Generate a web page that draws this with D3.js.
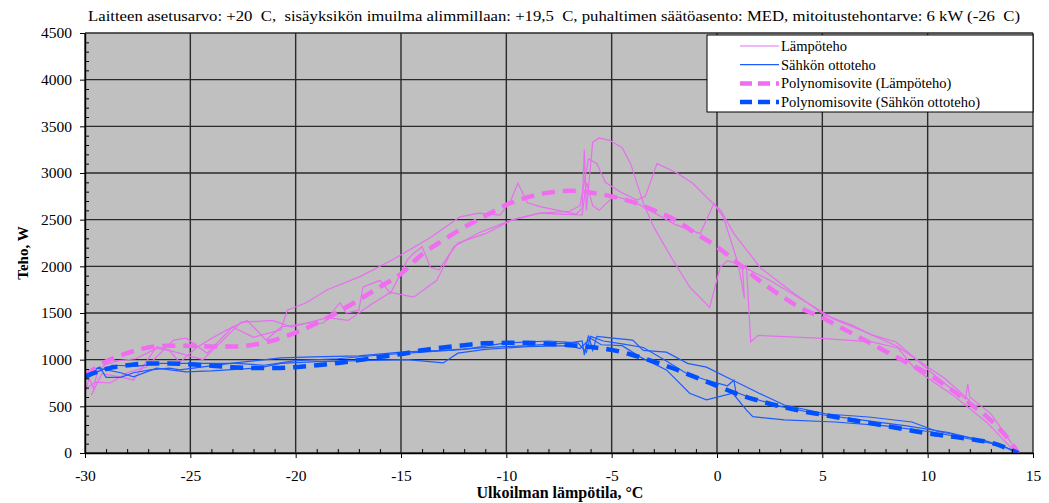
<!DOCTYPE html>
<html>
<head>
<meta charset="utf-8">
<script src="https://cdn.jsdelivr.net/npm/d3@7"></script>
<style>
  body { margin: 0; background: #fff; }
  svg { display: block; font-family: "Liberation Serif", "Times New Roman", serif; }
</style>
</head>
<body>
<div id="chart"></div>
<script>
var width = 1049;
var height = 503;

var titleText = "Laitteen asetusarvo: +20  C,  sisäyksikön imuilma alimmillaan: +19,5  C, puhaltimen säätöasento: MED, mitoitustehontarve: 6 kW (-26  C)";
var xTicks = [-30, -25, -20, -15, -10, -5, 0, 5, 10, 15];
var yTicks = [0, 500, 1000, 1500, 2000, 2500, 3000, 3500, 4000, 4500];
var legendLabels = ["Lämpöteho", "Sähkön ottoteho", "Polynomisovite (Lämpöteho)", "Polynomisovite (Sähkön ottoteho)"];

// measured heating power, several passes [temp, W]
var heatRunA = [[-30,650],[-29.8,800],[-29.6,690],[-29.4,880],[-29,950],[-28.4,990],[-27.6,1010],[-26.6,1120],[-26,1100],[-25.5,970],[-24.7,1130],[-23.9,1240],[-23,1350],[-22,1240],[-20.7,1320],[-20.4,1530],[-19.5,1610],[-18.5,1750],[-16.95,1890],[-15.4,2070],[-13.6,2310],[-12.2,2530],[-11.3,2570],[-10.3,2550],[-9.8,2700],[-9.45,2890],[-9,2680],[-8.4,2640],[-6.7,2560],[-6.4,2620],[-6.3,3250],[-6.2,2600],[-5.9,3330],[-5.6,3375],[-5.1,3350],[-4.5,3270],[-4.1,3100],[-3.5,2680],[-3,2420],[-2.1,2070],[-1.3,1780],[-0.35,1560],[0.15,1990],[0.5,2060],[1.4,2000],[1.6,1190],[1.95,1260],[4.8,1230],[7.35,1190],[8.6,1125],[9.4,900],[11.2,620],[12.8,330],[14.2,0]];
var heatRunB = [[-29.9,700],[-29.5,760],[-28.8,750],[-28,860],[-27.1,920],[-25.8,1210],[-25.2,1230],[-24.2,1070],[-23,1350],[-22.3,1420],[-21.4,1210],[-20.7,1350],[-19.5,1390],[-18.7,1390],[-17.9,1610],[-17.6,1500],[-17,1530],[-16.8,1780],[-16,1850],[-15.5,1710],[-15,1930],[-14.7,2070],[-14.4,2140],[-14,2210],[-13.6,1990],[-13.2,1960],[-12.8,2100],[-12.3,2250],[-11,2350],[-9.7,2500],[-8.4,2570],[-7,2590],[-6.5,2650],[-6.1,3150],[-5.7,3100],[-5.3,2900],[-4.6,2800],[-3.8,2710],[-3.4,2750],[-2.85,3100],[-1.9,3000],[-1.15,2890],[-0.36,2710],[0.18,2600],[0.8,2350],[2.08,1980],[3.5,1735],[5.1,1480],[6.4,1370],[7.35,1265],[8.5,1190],[9.6,975],[10.7,760],[11.8,580],[11.9,740],[12,600],[13,420],[14,100]];
var heatRunC = [[-29.7,620],[-29.2,850],[-28.2,810],[-27.7,780],[-26.6,1140],[-26,1100],[-24.4,1000],[-22.6,1400],[-21.1,1420],[-20.2,1350],[-18.5,1450],[-17.5,1420],[-16.5,1580],[-15.5,1720],[-14.4,1670],[-13.3,1850],[-12.5,2210],[-11.3,2360],[-9.7,2500],[-8.4,2570],[-7.5,2560],[-6.4,2550],[-6.2,2900],[-5.9,2650],[-5.6,2600],[-4.9,2750],[-4,2700],[-3.2,2600],[-2,2450],[-0.8,2350],[-0.15,2670],[0.3,2530],[1,2030],[1.3,1660],[1.2,2000],[2.5,1850],[4,1650],[5.5,1440],[7,1300],[8.5,1150],[9.5,1000],[10.8,800],[12,560]];

// measured electric input power
var elecRunA = [[-30,780],[-29.8,870],[-29.3,920],[-29,810],[-28.3,810],[-27.7,860],[-26.9,890],[-26,910],[-25.5,890],[-23.1,960],[-20.7,1020],[-19.2,1030],[-17,1040],[-15,1080],[-13,1100],[-11,1130],[-9,1150],[-7,1180],[-6.4,1200],[-6.3,1050],[-6.1,1260],[-5.9,1100],[-5.7,1250],[-4.94,1230],[-4,1210],[-3.5,1100],[-2.4,1080],[-1.4,960],[-0.5,920],[0.75,780],[2,640],[3.2,514],[5.2,418],[7.2,386],[9.25,332],[10.4,236],[12.8,129],[14.2,20]];
var elecRunB = [[-29.9,800],[-29.4,910],[-28.3,860],[-27.7,815],[-26.6,910],[-25.2,870],[-24,880],[-21.8,910],[-20.7,960],[-19,980],[-17,990],[-14.7,1000],[-13,965],[-12.3,1070],[-11,1110],[-9,1140],[-7,1150],[-6.5,1120],[-6,1230],[-5.5,1160],[-4.5,1150],[-3.66,1030],[-2.4,890],[-1.3,640],[-0.5,570],[0.75,640],[1.4,460],[1.7,390],[3.2,354],[5.6,332],[8,290],[10.2,225],[12,150],[13.6,75],[14.1,10]];
var elecRunC = [[-29.6,850],[-28.7,940],[-27.5,930],[-26.4,960],[-24.7,960],[-22.8,960],[-21.5,940],[-20,990],[-18,1010],[-16,1050],[-14,1080],[-12,1110],[-10,1180],[-8,1200],[-6.6,1180],[-6.2,1080],[-6,1250],[-5.4,1200],[-4.5,1170],[-3.5,1130],[-2.5,1000],[-1.5,860],[-0.5,780],[0.5,720],[0.8,780],[0.9,650],[1.5,600],[3,500],[5,410],[7,350],[9,290],[11,220],[13,110]];

// polynomial fits
var fitTemps = [-30,-29,-28,-27,-26,-25,-24,-23,-22,-21,-20,-19,-18,-17,-16,-15,-14,-13,-12,-11,-10,-9,-8,-7,-6,-5,-4,-3,-2,-1,0,1,2,3,4,5,6,7,8,9,10,11,12,13,14,14.3];
var heatFit = [830,980,1070,1130,1150,1150,1140,1140,1160,1210,1290,1390,1510,1640,1780,1920,2130,2280,2420,2540,2660,2740,2790,2810,2790,2750,2690,2600,2500,2350,2210,2030,1850,1690,1550,1450,1330,1210,1090,970,850,700,530,350,100,0];
var elecFit = [820,900,940,960,960,950,935,920,910,910,920,940,965,995,1030,1060,1100,1130,1155,1175,1180,1180,1170,1155,1135,1105,1050,980,900,810,720,630,560,500,450,410,370,330,290,250,210,180,150,110,30,0];

var heatColor = "#e86ef0";
var heatFitColor = "#f06cf0";
var elecColor = "#1f5cff";
var elecFitColor = "#0050ff";

var margin = {left: 85, right: 16, top: 33, bottom: 50};

var svg = d3.select("#chart").append("svg")
    .attr("width", width)
    .attr("height", height);

var x = d3.scaleLinear().domain([-30, 15]).range([margin.left, width - margin.right]);
var y = d3.scaleLinear().domain([0, 4500]).range([height - margin.bottom, margin.top]);

// plot background
svg.append("rect")
    .attr("x", x(-30)).attr("y", y(4500))
    .attr("width", x(15) - x(-30)).attr("height", y(0) - y(4500))
    .attr("fill", "#c0c0c0");

// grid
svg.append("g")
    .selectAll("line.gx")
    .data(xTicks)
    .enter().append("line")
    .attr("x1", d => x(d)).attr("x2", d => x(d))
    .attr("y1", y(0)).attr("y2", y(4500))
    .attr("stroke", "#2a2a2a").attr("stroke-width", 1.4);

svg.append("g")
    .selectAll("line.gy")
    .data(yTicks)
    .enter().append("line")
    .attr("x1", x(-30)).attr("x2", x(15))
    .attr("y1", d => y(d)).attr("y2", d => y(d))
    .attr("stroke", "#2a2a2a").attr("stroke-width", 1.4);

svg.append("defs").append("clipPath").attr("id", "plotclip")
    .append("rect")
    .attr("x", x(-30)).attr("y", y(4500))
    .attr("width", x(15) - x(-30)).attr("height", y(0) - y(4500));

var line = d3.line()
    .x(d => x(d[0]))
    .y(d => y(d[1]));

var plot = svg.append("g").attr("clip-path", "url(#plotclip)");

[heatRunA, heatRunB, heatRunC].forEach(function (run) {
    plot.append("path")
        .attr("d", line(run))
        .attr("fill", "none")
        .attr("stroke", heatColor)
        .attr("stroke-width", 1.2);
});

[elecRunA, elecRunB, elecRunC].forEach(function (run) {
    plot.append("path")
        .attr("d", line(run))
        .attr("fill", "none")
        .attr("stroke", elecColor)
        .attr("stroke-width", 1.2);
});

var fitLine = d3.line()
    .x(d => x(d[0]))
    .y(d => y(d[1]))
    .curve(d3.curveMonotoneX);

plot.append("path")
    .attr("d", fitLine(fitTemps.map((t, i) => [t, heatFit[i]])))
    .attr("fill", "none")
    .attr("stroke", heatFitColor)
    .attr("stroke-width", 4.5)
    .attr("stroke-dasharray", "13,8");

plot.append("path")
    .attr("d", fitLine(fitTemps.map((t, i) => [t, elecFit[i]])))
    .attr("fill", "none")
    .attr("stroke", elecFitColor)
    .attr("stroke-width", 4.5)
    .attr("stroke-dasharray", "13,8");

// axes
var xMinor = d3.range(-30, 15.01, 1).filter(d => d % 5 !== 0);
var yMinor = d3.range(0, 4501, 100).filter(d => d % 500 !== 0);
var plainFmt = d => String(d);

svg.append("g")
    .attr("transform", "translate(0," + y(0) + ")")
    .call(d3.axisBottom(x).tickValues(xMinor).tickSize(-4).tickFormat(""))
    .call(g => g.select(".domain").remove());

svg.append("g")
    .attr("transform", "translate(0," + y(0) + ")")
    .call(d3.axisBottom(x).tickValues(xTicks).tickSize(5).tickSizeOuter(0).tickPadding(12).tickFormat(plainFmt))
    .call(g => g.selectAll("text").attr("font-size", 15.5).attr("font-family", "Liberation Serif").attr("fill", "#000"));

svg.append("g")
    .attr("transform", "translate(" + x(-30) + ",0)")
    .call(d3.axisLeft(y).tickValues(yMinor).tickSize(-4).tickFormat(""))
    .call(g => g.select(".domain").remove());

svg.append("g")
    .attr("transform", "translate(" + x(-30) + ",0)")
    .call(d3.axisLeft(y).tickValues(yTicks).tickSize(5).tickSizeOuter(0).tickPadding(8).tickFormat(plainFmt))
    .call(g => g.selectAll("text").attr("font-size", 15.5).attr("font-family", "Liberation Serif").attr("fill", "#000"));

svg.selectAll(".domain").attr("stroke", "#000").attr("stroke-width", 1.4);
svg.selectAll(".tick line").attr("stroke", "#000");

// titles
svg.append("text")
    .attr("x", 88).attr("y", 21)
    .attr("font-size", 14.5)
    .attr("textLength", 932)
    .attr("lengthAdjust", "spacingAndGlyphs")
    .style("white-space", "pre")
    .text(titleText);

svg.append("text")
    .attr("transform", "translate(28," + ((y(0) + y(4500)) / 2 + 10) + ") rotate(-90)")
    .attr("text-anchor", "middle")
    .attr("font-size", 15)
    .attr("font-weight", "bold")
    .text("Teho, W");

svg.append("text")
    .attr("x", 560).attr("y", 498)
    .attr("text-anchor", "middle")
    .attr("font-size", 16)
    .attr("font-weight", "bold")
    .text("Ulkoilman lämpötila, °C");

// legend
var legend = svg.append("g").attr("transform", "translate(707,35)");
legend.append("rect")
    .attr("width", 326).attr("height", 77)
    .attr("fill", "#fff").attr("stroke", "#000").attr("stroke-width", 1);

var legendStyles = [
    {color: heatColor, width: 1.2, dash: null},
    {color: elecColor, width: 1.2, dash: null},
    {color: heatFitColor, width: 4.5, dash: "12,6"},
    {color: elecFitColor, width: 4.5, dash: "12,6"}
];

legendLabels.forEach(function (label, i) {
    var row = legend.append("g").attr("transform", "translate(0," + (11 + i * 18.7) + ")");
    row.append("line")
        .attr("x1", 33).attr("x2", 72)
        .attr("stroke", legendStyles[i].color)
        .attr("stroke-width", legendStyles[i].width)
        .attr("stroke-dasharray", legendStyles[i].dash);
    row.append("text")
        .attr("x", 74).attr("y", 5)
        .attr("font-size", 14.5)
        .text(label);
});
</script>
</body>
</html>
